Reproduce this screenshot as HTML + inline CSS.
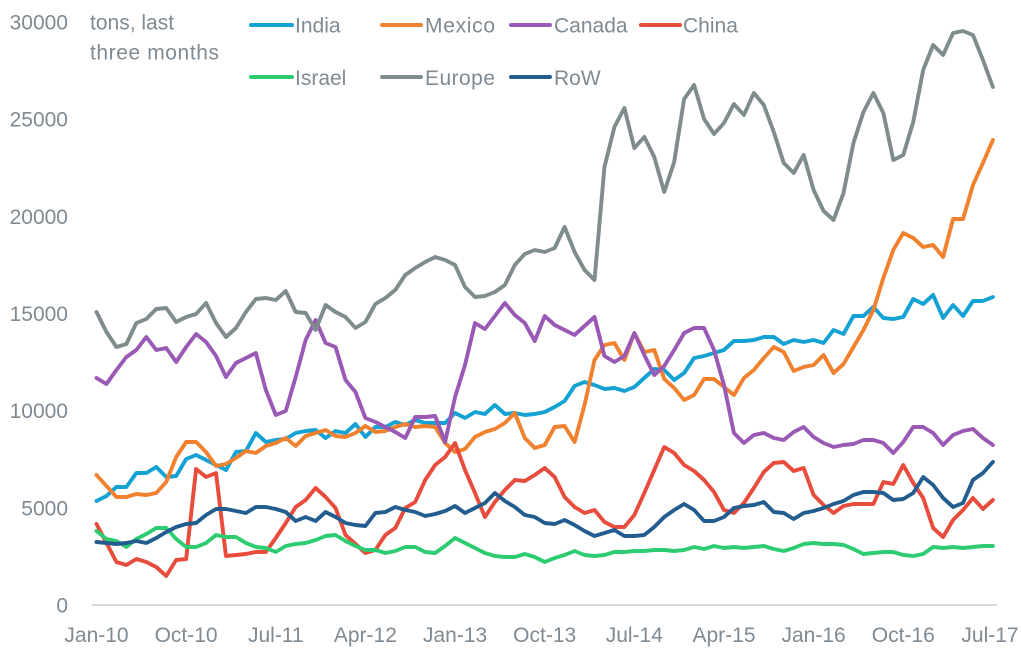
<!DOCTYPE html>
<html><head><meta charset="utf-8"><style>
html,body{margin:0;padding:0;background:#fff;}
svg{display:block;font-family:"Liberation Sans",sans-serif;}
text{fill:#7f8a93;font-size:21px;}
</style></head><body>
<svg width="1021" height="653" viewBox="0 0 1021 653">
<rect width="1021" height="653" fill="#fff"/>
<line x1="92" y1="605" x2="997" y2="605" stroke="#d9d9d9" stroke-width="2"/>
<g text-anchor="end">
<text x="68" y="29.5">30000</text>
<text x="68" y="126.7">25000</text>
<text x="68" y="223.8">20000</text>
<text x="68" y="321">15000</text>
<text x="68" y="418.2">10000</text>
<text x="68" y="515.3">5000</text>
<text x="68" y="612.5">0</text>
</g>
<g text-anchor="middle">
<text x="96.5" y="642">Jan-10</text>
<text x="186.1" y="642">Oct-10</text>
<text x="275.8" y="642">Jul-11</text>
<text x="365.4" y="642">Apr-12</text>
<text x="455.1" y="642">Jan-13</text>
<text x="544.7" y="642">Oct-13</text>
<text x="634.3" y="642">Jul-14</text>
<text x="724" y="642">Apr-15</text>
<text x="813.6" y="642">Jan-16</text>
<text x="903.3" y="642">Oct-16</text>
<text x="990" y="642">Jul-17</text>
</g>
<text x="90" y="29.5">tons, last</text>
<text x="90" y="59.3" textLength="129">three months</text>
<g stroke-width="4" stroke-linecap="round">
<line x1="251" y1="25" x2="292" y2="25" stroke="#14a2d4"/>
<line x1="382" y1="25" x2="421" y2="25" stroke="#f0812f"/>
<line x1="511" y1="25" x2="550" y2="25" stroke="#9b59b6"/>
<line x1="641" y1="25" x2="680" y2="25" stroke="#e74c3c"/>
<line x1="251" y1="77" x2="292" y2="77" stroke="#2ecc71"/>
<line x1="382" y1="77" x2="421" y2="77" stroke="#7f8c8d"/>
<line x1="511" y1="77" x2="550" y2="77" stroke="#235d8f"/>
</g>
<text x="295" y="32.5">India</text>
<text x="425" y="32.5" textLength="70">Mexico</text>
<text x="554" y="32.5">Canada</text>
<text x="683" y="32.5">China</text>
<text x="295" y="85">Israel</text>
<text x="425" y="85" textLength="70">Europe</text>
<text x="554" y="85">RoW</text>
<g transform="translate(96.5,0) scale(9.96,1)" fill="none" stroke-width="3.9" stroke-linejoin="round" stroke-linecap="round">
<polyline vector-effect="non-scaling-stroke" stroke="#14a2d4" points="0,501 1,496 2,487 3,487 4,473 5,473 6,467 7,477 8,476 9,459 10,455 11,460 12,465 13,470 14,452 15,451 16,433 17,442 18,440 19,439 20,433 21,431 22,430 23,438 24,431 25,433 26,424 27,437 28,427 29,427 30,422 31,425 32,420 33,423 34,423 35,423 36,413 37,418 38,412 39,414 40,405 41,414 42,413 43,415 44,414 45,412 46,407 47,401 48,386 49,382 50,385 51,389 52,388 53,391 54,387 55,378 56,369 57,370 58,380 59,373 60,358 61,356 62,353 63,350 64,341 65,341 66,340 67,337 68,337 69,344 70,340 71,342 72,340 73,343 74,330 75,334 76,316 77,316 78,307 79,318 80,319 81,317 82,299 83,304 84,295 85,318 86,305 87,316 88,301 89,301 90,297"/>
<polyline vector-effect="non-scaling-stroke" stroke="#f0812f" points="0,475 1,486 2,497 3,497 4,494 5,495 6,493 7,482 8,457 9,442 10,442 11,452 12,466 13,464 14,458 15,451 16,453 17,446 18,443 19,438 20,446 21,436 22,433 23,430 24,436 25,437 26,433 27,426 28,432 29,431 30,427 31,424 32,427 33,426 34,427 35,443 36,452 37,449 38,437 39,432 40,429 41,423 42,413 43,438 44,448 45,445 46,427 47,426 48,442 49,405 50,360 51,345 52,343 53,360 54,333 55,352 56,350 57,379 58,388 59,400 60,395 61,379 62,379 63,387 64,395 65,378 66,370 67,358 68,347 69,352 70,371 71,367 72,365 73,355 74,373 75,364 76,347 77,330 78,310 79,278 80,250 81,233 82,238 83,247 84,245 85,257 86,219 87,219 88,185 89,163 90,140"/>
<polyline vector-effect="non-scaling-stroke" stroke="#9b59b6" points="0,378 1,384 2,370 3,357 4,350 5,337 6,350 7,348 8,362 9,347 10,334 11,342 12,356 13,377 14,363 15,358 16,353 17,390 18,415 19,411 20,377 21,340 22,320 23,343 24,347 25,380 26,392 27,418 28,422 29,427 30,432 31,438 32,417 33,417 34,416 35,442 36,397 37,365 38,323 39,329 40,316 41,303 42,315 43,323 44,341 45,316 46,325 47,330 48,335 49,326 50,317 51,356 52,362 53,356 54,333 55,355 56,375 57,366 58,350 59,333 60,328 61,328 62,350 63,385 64,433 65,443 66,435 67,433 68,438 69,440 70,432 71,427 72,437 73,443 74,447 75,445 76,444 77,440 78,440 79,443 80,453 81,442 82,427 83,427 84,433 85,445 86,435 87,431 88,429 89,438 90,445"/>
<polyline vector-effect="non-scaling-stroke" stroke="#e74c3c" points="0,524 1,543 2,562 3,565 4,559 5,562 6,567 7,576 8,560 9,559 10,469 11,477 12,473 13,556 14,555 15,554 16,552 17,552 18,538 19,523 20,507 21,500 22,488 23,497 24,508 25,535 26,544 27,553 28,550 29,535 30,528 31,508 32,502 33,480 34,465 35,457 36,443 37,470 38,493 39,517 40,502 41,490 42,480 43,481 44,475 45,468 46,477 47,497 48,507 49,513 50,510 51,522 52,527 53,527 54,515 55,493 56,470 57,447 58,453 59,465 60,471 61,480 62,492 63,510 64,513 65,503 66,488 67,472 68,463 69,462 70,471 71,468 72,495 73,505 74,513 75,506 76,504 77,504 78,504 79,482 80,484 81,465 82,483 83,498 84,528 85,537 86,520 87,510 88,498 89,509 90,500"/>
<polyline vector-effect="non-scaling-stroke" stroke="#2ecc71" points="0,531 1,539 2,541 3,547 4,539 5,534 6,528 7,528 8,539 9,547 10,547 11,543 12,535 13,537 14,537 15,543 16,547 17,548 18,552 19,546 20,544 21,543 22,540 23,536 24,535 25,541 26,546 27,550 28,550 29,553 30,551 31,547 32,547 33,552 34,553 35,546 36,538 37,543 38,548 39,553 40,556 41,557 42,557 43,554 44,557 45,562 46,558 47,555 48,551 49,555 50,556 51,555 52,552 53,552 54,551 55,551 56,550 57,550 58,551 59,550 60,547 61,549 62,546 63,548 64,547 65,548 66,547 67,546 68,549 69,551 70,548 71,544 72,543 73,544 74,544 75,545 76,549 77,554 78,553 79,552 80,552 81,555 82,556 83,554 84,547 85,548 86,547 87,548 88,547 89,546 90,546"/>
<polyline vector-effect="non-scaling-stroke" stroke="#7f8c8d" points="0,312 1,332 2,347 3,344 4,323 5,319 6,309 7,308 8,322 9,317 10,314 11,303 12,323 13,337 14,328 15,312 16,299 17,298 18,300 19,291 20,312 21,313 22,330 23,305 24,312 25,317 26,328 27,322 28,304 29,298 30,290 31,275 32,268 33,262 34,257 35,260 36,265 37,287 38,297 39,296 40,292 41,285 42,265 43,254 44,250 45,252 46,248 47,227 48,252 49,270 50,280 51,167 52,127 53,108 54,148 55,137 56,157 57,192 58,162 59,99 60,85 61,119 62,134 63,123 64,104 65,115 66,93 67,105 68,132 69,163 70,173 71,155 72,190 73,211 74,220 75,193 76,143 77,112 78,93 79,113 80,160 81,155 82,122 83,70 84,45 85,55 86,33 87,31 88,35 89,60 90,87"/>
<polyline vector-effect="non-scaling-stroke" stroke="#235d8f" points="0,542 1,543 2,544 3,543 4,541 5,543 6,538 7,532 8,527 9,524 10,523 11,515 12,509 13,509 14,511 15,513 16,507 17,507 18,509 19,512 20,521 21,517 22,521 23,512 24,517 25,523 26,525 27,526 28,513 29,512 30,507 31,510 32,512 33,516 34,514 35,511 36,506 37,513 38,508 39,503 40,493 41,501 42,507 43,515 44,517 45,523 46,524 47,520 48,525 49,531 50,536 51,533 52,530 53,536 54,536 55,535 56,527 57,517 58,510 59,504 60,510 61,521 62,521 63,517 64,508 65,506 66,505 67,502 68,512 69,513 70,519 71,513 72,511 73,508 74,504 75,501 76,495 77,492 78,492 79,493 80,500 81,499 82,493 83,477 84,485 85,498 86,507 87,503 88,480 89,473 90,462"/>
</g>
</svg>
</body></html>
